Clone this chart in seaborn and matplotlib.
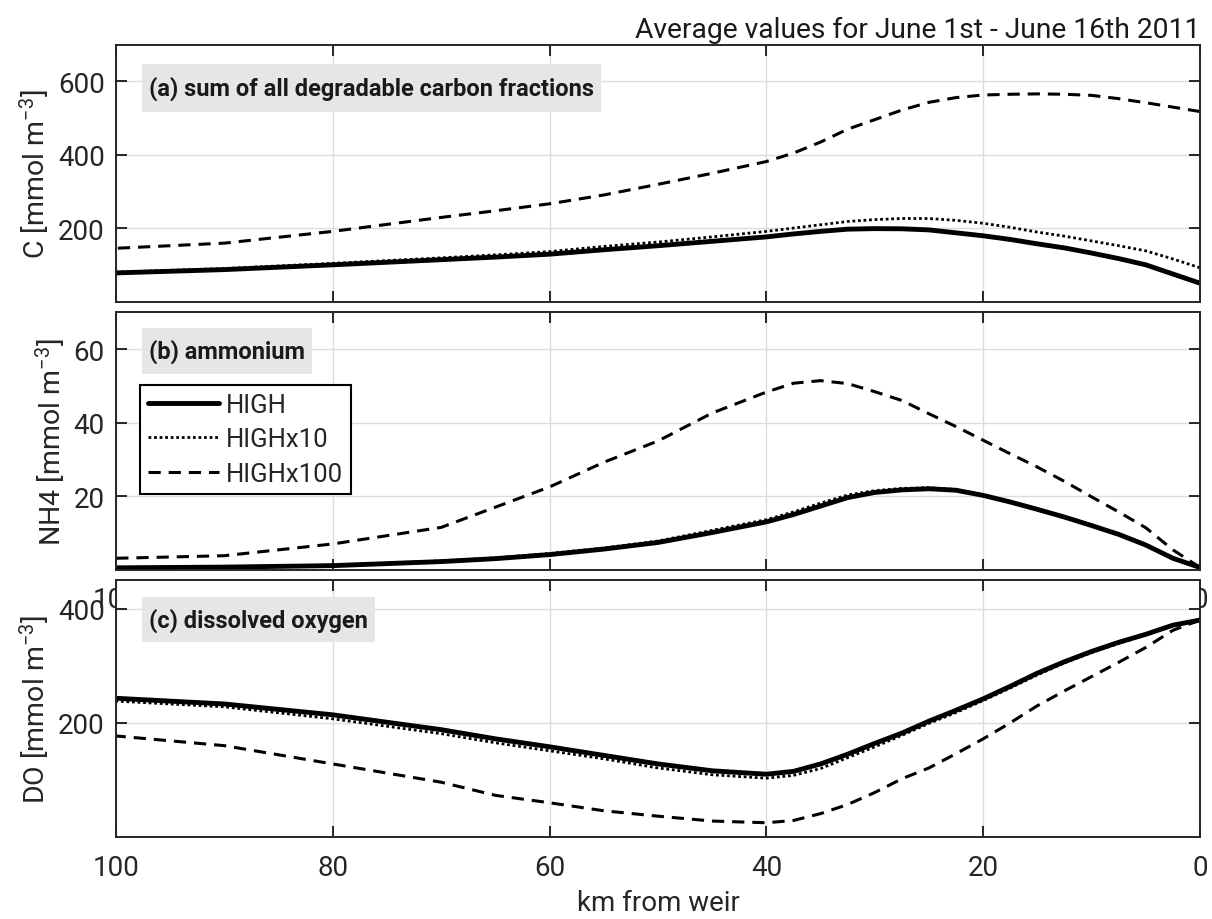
import matplotlib
matplotlib.use("Agg")
import matplotlib.pyplot as plt
from matplotlib.patches import Rectangle
import seaborn as sns

# distance from the weir (km) at which the model averages are sampled
km = [100, 90, 80, 70, 65, 60, 55, 50, 45, 40, 37.5, 35, 32.5, 30, 27.5,
      25, 22.5, 20, 17.5, 15, 12.5, 10, 7.5, 5, 2.5, 0]

# (a) sum of all degradable carbon fractions [mmol m-3]
carbon_high = [79, 88, 101, 115, 122, 130, 142, 153, 165, 177, 185, 192, 198,
               199.5, 199, 196, 188, 180, 170, 158, 147, 133, 118, 101, 76, 51]
carbon_high_x10 = [81, 91, 105, 120, 128, 137, 151, 163, 177, 192, 201, 210, 219,
                   224, 227, 227, 222, 214, 203, 190, 179, 166, 153, 139, 117, 93]
carbon_high_x100 = [146, 160, 192, 230, 248, 267, 291, 320, 350, 382, 405, 435, 470,
                    496, 522, 543, 556, 563, 565, 566, 565, 562, 553, 542, 530, 518]

# (b) ammonium [mmol m-3]
nh4_high = [0.5, 0.7, 1.1, 2.2, 3.0, 4.1, 5.6, 7.4, 10.1, 13.0, 15.0, 17.3, 19.6,
            21.0, 21.7, 22.0, 21.6, 20.2, 18.4, 16.4, 14.3, 12.0, 9.6, 6.7, 3.1, 0.6]
nh4_high_x10 = [0.6, 0.8, 1.2, 2.4, 3.2, 4.4, 5.9, 7.8, 10.7, 13.6, 15.7, 18.1, 20.3,
                21.5, 22.1, 22.3, 21.8, 20.3, 18.5, 16.5, 14.4, 12.1, 9.7, 6.8, 3.2, 0.6]
nh4_high_x100 = [3.1, 3.8, 7.0, 11.5, 17.0, 22.5, 29.2, 35.0, 42.6, 48.3, 50.7, 51.4, 50.6,
                 48.4, 46.0, 42.4, 38.9, 35.2, 31.5, 27.9, 24.0, 19.8, 15.7, 11.4, 5.4, 0.6]

# (c) dissolved oxygen [mmol m-3]
do_high = [243, 233, 214, 188, 172, 158, 143, 128, 116, 110, 115, 128, 145,
           164, 182, 203, 222, 242, 264, 287, 307, 325, 341, 355, 371, 380]
do_high_x10 = [238, 228, 207, 181, 165, 151, 137, 121, 109, 103, 108, 120, 139,
               158, 178, 199, 218, 239, 261, 284, 305, 323, 339, 354, 370, 380]
do_high_x100 = [177, 160, 128, 96, 73, 60, 46, 36.5, 28, 25, 29, 41, 57,
                78, 102, 121, 146, 172, 200, 230, 256, 281, 306, 332, 362, 380]

x_ticks = [100, 80, 60, 40, 20, 0]

run_names = ["HIGH", "HIGHx10", "HIGHx100"]
run_styles = {
    "HIGH": dict(linestyle="-", linewidth=3.5),
    "HIGHx10": dict(linestyle=(0, (1, 1)), linewidth=2.0),
    "HIGHx100": dict(linestyle=(0, (4, 2.6)), linewidth=2.2),
}

panels = [
    dict(series=[carbon_high, carbon_high_x10, carbon_high_x100],
         ylim=(0, 700), yticks=[200, 400, 600],
         ylabel="C [mmol m$^{-3}$]",
         tag="(a) sum of all degradable carbon fractions",
         tag_box=(0.7396, 0.925)),
    dict(series=[nh4_high, nh4_high_x10, nh4_high_x100],
         ylim=(0, 70), yticks=[20, 40, 60],
         ylabel="NH4 [mmol m$^{-3}$]",
         tag="(b) ammonium",
         tag_box=(0.7603, 0.939)),
    dict(series=[do_high, do_high_x10, do_high_x100],
         ylim=(0, 450), yticks=[200, 400],
         ylabel="DO [mmol m$^{-3}$]",
         tag="(c) dissolved oxygen",
         tag_box=(0.7588, 0.9339)),
]

sns.set_style("ticks")
plt.rcParams.update({
    "axes.edgecolor": "#262626",
    "axes.linewidth": 1.4,
    "axes.labelcolor": "#262626",
    "xtick.direction": "in",
    "ytick.direction": "in",
    "xtick.top": True,
    "ytick.right": True,
    "xtick.major.size": 8,
    "ytick.major.size": 8,
    "xtick.major.width": 1.4,
    "ytick.major.width": 1.4,
    "xtick.color": "#262626",
    "ytick.color": "#262626",
    "xtick.major.pad": 12,
    "ytick.major.pad": 8,
    "grid.color": "#dcdcdc",
    "grid.linewidth": 1.0,
    "font.size": 20,
    "mathtext.fontset": "custom",
    "mathtext.rm": "Roboto",
    "mathtext.it": "Roboto:italic",
    "mathtext.default": "regular",
})
plt.rcParams["font.family"] = ["Roboto", "DejaVu Sans"]

fig = plt.figure(figsize=(12.12, 9.2), dpi=100)
left, width = 0.0957, 0.8944
positions = [
    [left, 0.6707, width, 0.2797],
    [left, 0.3797, width, 0.2798],
    [left, 0.0891, width, 0.2793],
]
axes = [fig.add_axes(p) for p in positions]

for i, (ax, panel) in enumerate(zip(axes, panels)):
    ax.set_facecolor("white")
    for name, values in zip(run_names, panel["series"]):
        sns.lineplot(x=km, y=values, ax=ax, color="black", label=name,
                     legend=False, **run_styles[name])
    ax.set_xlim(100, 0)
    ax.set_xticks(x_ticks)
    ax.set_ylim(*panel["ylim"])
    ax.set_yticks(panel["yticks"])
    ax.grid(True)
    ax.set_axisbelow(True)
    ax.set_ylabel(panel["ylabel"], fontsize=20.5)
    ax.tick_params(labelsize=20)
    for side in ax.spines.values():
        side.set_visible(True)

# top panel: no x labels; middle panel: only the end labels peek out
# from under the lower panel
axes[0].tick_params(labelbottom=False)
axes[1].set_xticklabels([str(t) if t in (x_ticks[0], x_ticks[-1]) else ""
                         for t in x_ticks])

axes[0].set_title("Average values for June 1st - June 16th 2011",
                  loc="right", fontsize=20.3, pad=5.5, color="#1a1a1a")
axes[2].set_xlabel("km from weir", fontsize=20, labelpad=6)

# legend in the ammonium panel
axes[1].legend(loc="upper left", bbox_to_anchor=(0.022, 0.7176),
               fontsize=18.5, frameon=True, fancybox=False, framealpha=1,
               edgecolor="black", handlelength=2.8, handletextpad=0.25,
               borderpad=0.3, labelspacing=0.42, borderaxespad=0)
axes[1].get_legend().get_frame().set_linewidth(1.5)

# grey panel tags behind bold titles
fig.canvas.draw()
for ax, panel in zip(axes, panels):
    ybot, ytop = panel["tag_box"]
    t = ax.text(0.0304, (ybot + ytop) / 2, panel["tag"], transform=ax.transAxes,
                fontsize=17, fontweight="bold", ha="left", va="center",
                color="#1a1a1a", zorder=6)
    fig.canvas.draw()
    bb = t.get_window_extent()
    inv = ax.transAxes.inverted()
    x0 = inv.transform((bb.x0 - 7, 0))[0]
    x1 = inv.transform((bb.x1 + 7, 0))[0]
    ax.add_patch(Rectangle((x0, ybot), x1 - x0, ytop - ybot, transform=ax.transAxes,
                           facecolor="#e6e6e6", edgecolor="none", zorder=5))

fig.savefig("out.png", dpi=100)
